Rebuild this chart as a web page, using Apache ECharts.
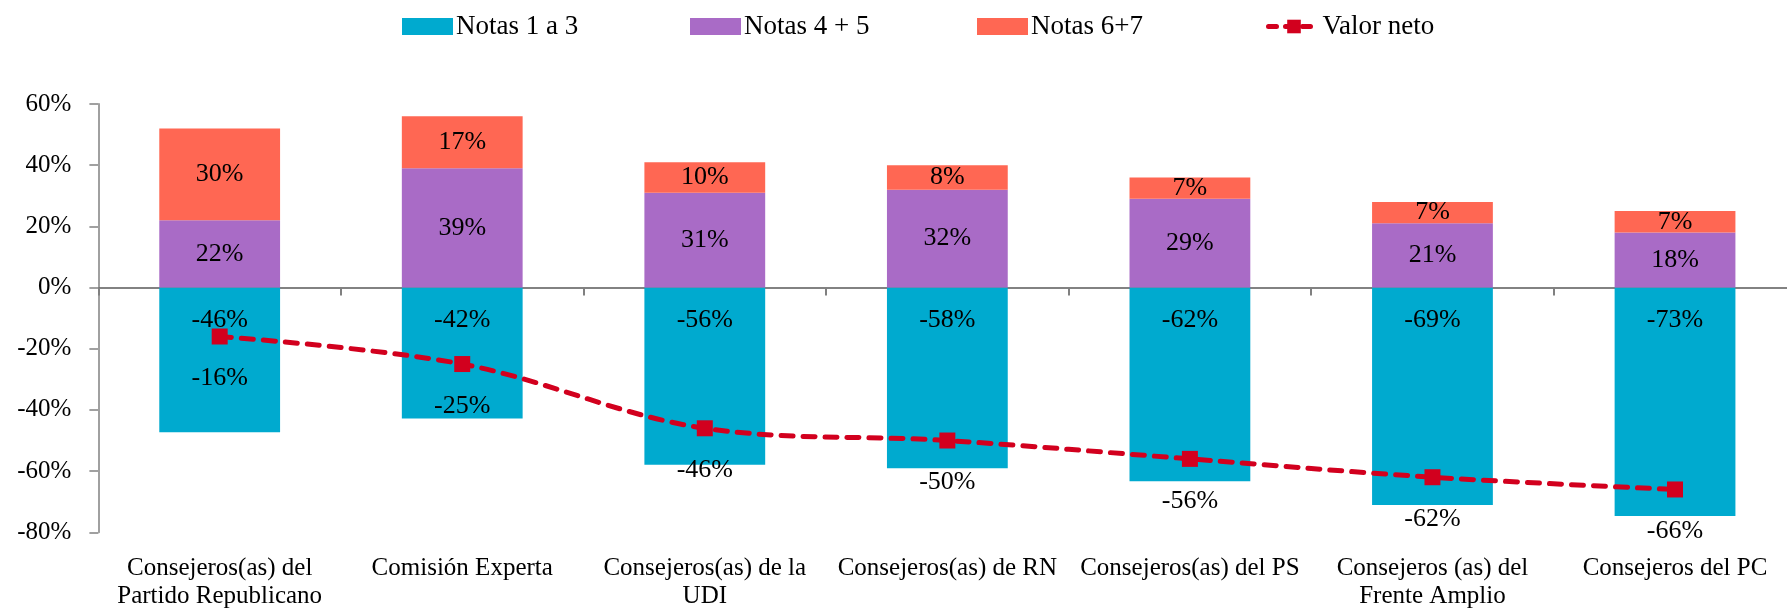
<!DOCTYPE html>
<html>
<head>
<meta charset="utf-8">
<script src="https://cdn.jsdelivr.net/npm/echarts@6/dist/echarts.min.js"></script>
<style>
html,body{margin:0;padding:0;background:#fff;}
#chart{width:1787px;height:613px;}
</style>
</head>
<body>
<div id="chart"></div>
<script>
var categories = [
  'Consejeros(as) del\nPartido Republicano',
  'Comisión Experta',
  'Consejeros(as) de la\nUDI',
  'Consejeros(as) de RN',
  'Consejeros(as) del PS',
  'Consejeros (as) del\nFrente Amplio',
  'Consejeros del PC'
];
// bar extents as drawn (negative) and the printed labels
var notas13 = [-47.3, -42.8, -57.9, -59.1, -63.3, -71.1, -74.7];
var notas13Labels = [-46, -42, -56, -58, -62, -69, -73];
var notas45 = [22, 39, 31, 32, 29, 21, 18];
var notas67 = [30, 17, 10, 8, 7, 7, 7];
var valorNeto = [-16, -25, -46, -50, -56, -62, -66];
var yTicks = {min: -80, max: 60, interval: 20};

var FONT = 'Liberation Serif';
var chart = echarts.init(document.getElementById('chart'));

function legendItem(name, left, icon) {
  var l = {
    data: [name], left: left, top: 13, itemWidth: 51, itemHeight: 17, itemGap: 0,
    padding: 0,
    textStyle: {fontFamily: FONT, fontSize: 27, color: '#000', padding: [0, 0, 0, -2]},
    selectedMode: false
  };
  if (icon) l.icon = icon;
  else l.lineStyle = {width: 5, type: [8, 9], cap: 'round'};
  return l;
}

var option = {
  animation: false,
  backgroundColor: '#fff',
  legend: [
    legendItem('Notas 1 a 3', 402, 'rect'),
    legendItem('Notas 4 + 5', 690, 'rect'),
    legendItem('Notas 6+7', 977, 'rect'),
    legendItem('Valor neto', 1266)
  ],
  grid: {left: 98.4, right: -9.3, top: 104, bottom: 80.7, outerBoundsMode: 'none', containLabel: false},
  xAxis: [
    {
      type: 'category', data: categories, position: 'bottom',
      axisLine: {onZero: true, lineStyle: {color: '#595959', width: 1.5}},
      axisTick: {show: true, length: 8, lineStyle: {color: '#808080', width: 2}},
      axisLabel: {show: false}
    },
    {
      type: 'category', data: categories, position: 'bottom',
      axisLine: {show: false, onZero: false},
      axisTick: {show: false},
      axisLabel: {fontFamily: FONT, fontSize: 25, color: '#000', margin: 22, lineHeight: 28, interval: 0}
    }
  ],
  yAxis: {
    type: 'value', min: yTicks.min, max: yTicks.max, interval: yTicks.interval,
    axisLine: {show: true, lineStyle: {color: '#A0A0A0', width: 2}},
    axisTick: {show: true, length: 9, lineStyle: {color: '#A0A0A0', width: 2}},
    splitLine: {show: false},
    axisLabel: {fontFamily: FONT, fontSize: 25, color: '#000', margin: 27, formatter: '{value}%'}
  },
  series: [
    {
      name: 'Notas 1 a 3', type: 'bar', stack: 'a', data: notas13, barWidth: '49.8%',
      itemStyle: {color: '#00AACF'},
      label: {show: true, position: 'insideTop', distance: 20, fontFamily: FONT, fontSize: 26, color: '#000',
        formatter: function (p) { return notas13Labels[p.dataIndex] + '%'; }}
    },
    {
      name: 'Notas 4 + 5', type: 'bar', stack: 'a', data: notas45, barWidth: '49.8%',
      itemStyle: {color: '#A96BC6'},
      label: {show: true, position: 'inside', fontFamily: FONT, fontSize: 26, color: '#000', formatter: '{c}%'}
    },
    {
      name: 'Notas 6+7', type: 'bar', stack: 'a', data: notas67, barWidth: '49.8%',
      itemStyle: {color: '#FF6753'},
      label: {show: true, position: 'inside', fontFamily: FONT, fontSize: 26, color: '#000', formatter: '{c}%'}
    },
    {
      name: 'Valor neto', type: 'line', data: valorNeto, smooth: 0.35, z: 5,
      symbol: 'rect', symbolSize: 16,
      itemStyle: {color: '#D2001E'},
      lineStyle: {color: '#D2001E', width: 5, type: [12, 10], cap: 'round'},
      label: {show: true, position: 'bottom', distance: 21, fontFamily: FONT, fontSize: 26, color: '#000', formatter: '{c}%'}
    }
  ]
};
chart.setOption(option);
</script>
</body>
</html>
